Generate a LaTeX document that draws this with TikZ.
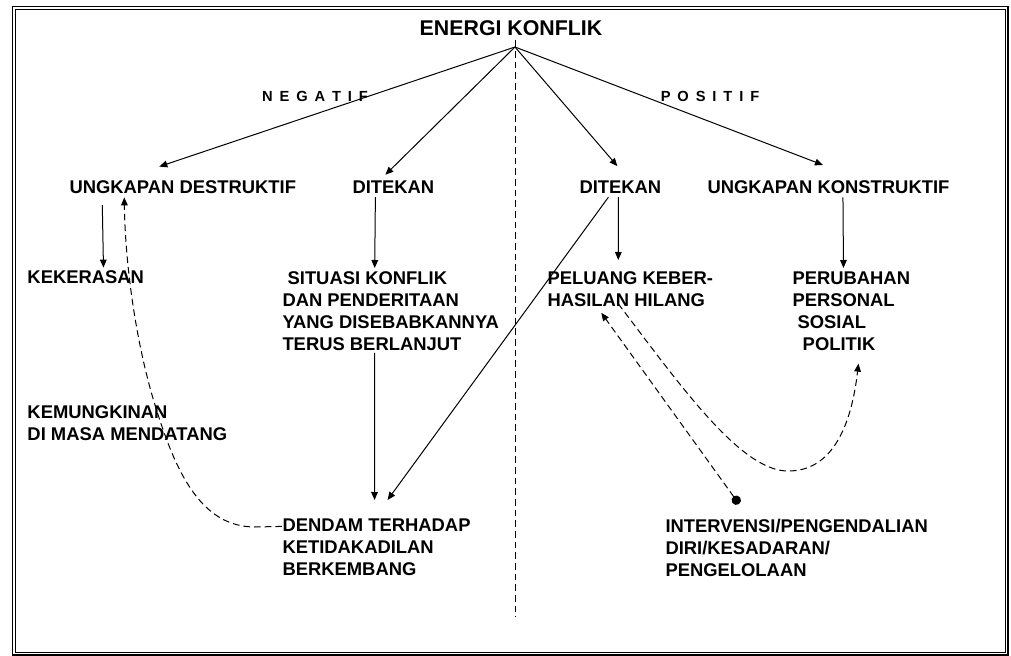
\documentclass[tikz,border=0pt]{standalone}
\usepackage{fontspec}
\setmainfont{Liberation Sans}
\usetikzlibrary{arrows.meta}
\tikzstyle{pfeil}=[-{Triangle[length=6pt,width=5pt]}]
\tikzstyle{strich}=[dash pattern=on 5pt off 3pt]
\tikzstyle{txt}=[inner sep=0pt,align=left,font=\bfseries\fontsize{13.8}{16.5}\selectfont]
\tikzstyle{seite}=[inner sep=0pt,font=\bfseries\fontsize{11}{13}\selectfont]
\newcommand{\lsp}{\hspace{.47em}}
\newcommand{\einr}{\hspace*{.278em}}

\begin{document}
\begin{tikzpicture}[x=0.75pt,y=-0.75pt,line width=0.75pt]
			\useasboundingbox (0,0) rectangle (1011,656);
			% Rahmen zeichnen
			\draw[line width=1pt] (12.5,6.5) rectangle (1008,655);
			\draw (15.5,9.5) rectangle (1005,652);
			% Titel und Mittellinie
			\node[txt,font=\bfseries\fontsize{16}{19}\selectfont] (energi) at (511,28) {ENERGI KONFLIK};
			\coordinate (apex) at (515,47);
			\coordinate (mitte) at (515,617);
			\draw[strich] ([yshift=5]apex) -- (mitte);
			\node[seite] (neg) at (315,96) {N\lsp E\lsp G\lsp A\lsp T\lsp I\lsp F};
			\node[seite] (pos) at (710,96) {P\lsp O\lsp S\lsp I\lsp T\lsp I\lsp F};
			% erste Reihe
			\node[txt,anchor=west] (ud) at (69,187) {UNGKAPAN DESTRUKTIF};
			\node[txt,anchor=west] (dl) at (352,187) {DITEKAN};
			\node[txt,anchor=west] (dr) at (579,187) {DITEKAN};
			\node[txt,anchor=west] (uk) at (707,187) {UNGKAPAN KONSTRUKTIF};
			% zweite Reihe
			\node[txt,anchor=west] (kek) at (27,277) {KEKERASAN};
			\node[txt,anchor=north west] (sit) at (282,271.4) {\einr SITUASI KONFLIK\\DAN PENDERITAAN\\YANG DISEBABKANNYA\\TERUS BERLANJUT};
			\node[txt,anchor=north west] (pel) at (547,271.4) {PELUANG KEBER-\\HASILAN HILANG};
			\node[txt,anchor=north west] (per) at (792,271.4) {PERUBAHAN\\PERSONAL\\\einr SOSIAL\\\einr\einr POLITIK};
			% untere Knoten
			\node[txt,anchor=north west] (kem) at (27,405.4) {KEMUNGKINAN\\DI MASA MENDATANG};
			\node[txt,anchor=north west] (den) at (282,518.4) {DENDAM TERHADAP\\KETIDAKADILAN\\BERKEMBANG};
			\node[txt,anchor=north west] (int) at (665,518.4) {INTERVENSI/PENGENDALIAN\\DIRI/KESADARAN/\\PENGELOLAAN};
			% Pfeile vom Titel
			\draw[pfeil] (apex) -- ([shift={(-23.5,-13.4)}]ud.north);
			\draw[pfeil] (apex) -- ([shift={(-8,-5.4)}]dl.north);
			\draw[pfeil] (apex) -- ([shift={(-3,-14)}]dr.north);
			\draw[pfeil] (apex) -- ([shift={(-5.5,-15)}]uk.north);
			% senkrechte Pfeile
			\draw[pfeil] ([shift={(-80.5,11)}]ud.south) -- ([shift={(17.7,-2.4)}]kek.north);
			\draw[pfeil] ([shift={(-18,3.4)}]dl.south) -- ([shift={(-16,-3.4)}]sit.north);
			\draw[pfeil] ([shift={(-16,1.4)}]sit.south) -- ([shift={(-2,-18.4)}]den.north);
			\draw[pfeil] ([shift={(-12,3.4)}]dr.south) -- ([shift={(11,-18.4)}]den.north);
			\draw[pfeil] ([shift={(-2,3.4)}]dr.south) -- ([shift={(-12,-11.4)}]pel.north);
			\draw[pfeil] ([shift={(14.5,3.4)}]uk.south) -- ([shift={(-7.8,-3.4)}]per.north);
			% gestrichelte Rueckwirkungen
			\draw[pfeil,strich] ([shift={(0,8)}]den.north west) -- (255,527)
				.. controls (200,527) and (175,470) .. (155,405)
				.. controls (135,340) and (125,260) .. ([shift={(-58.5,3.4)}]ud.south);
			\draw[{Circle[length=7pt]}-{Triangle[length=6pt,width=5pt]},strich] ([shift={(74,-14.4)}]int.north west) -- ([shift={(-29,5.4)}]pel.south);
			\draw[pfeil,strich] ([shift={(-12,-3.6)}]pel.south)
				.. controls (680,385) and (740,470) .. (787,471)
				.. controls (835,472) and (852,420) .. ([shift={(7.2,12.4)}]per.south);
		\end{tikzpicture}
\end{document}
